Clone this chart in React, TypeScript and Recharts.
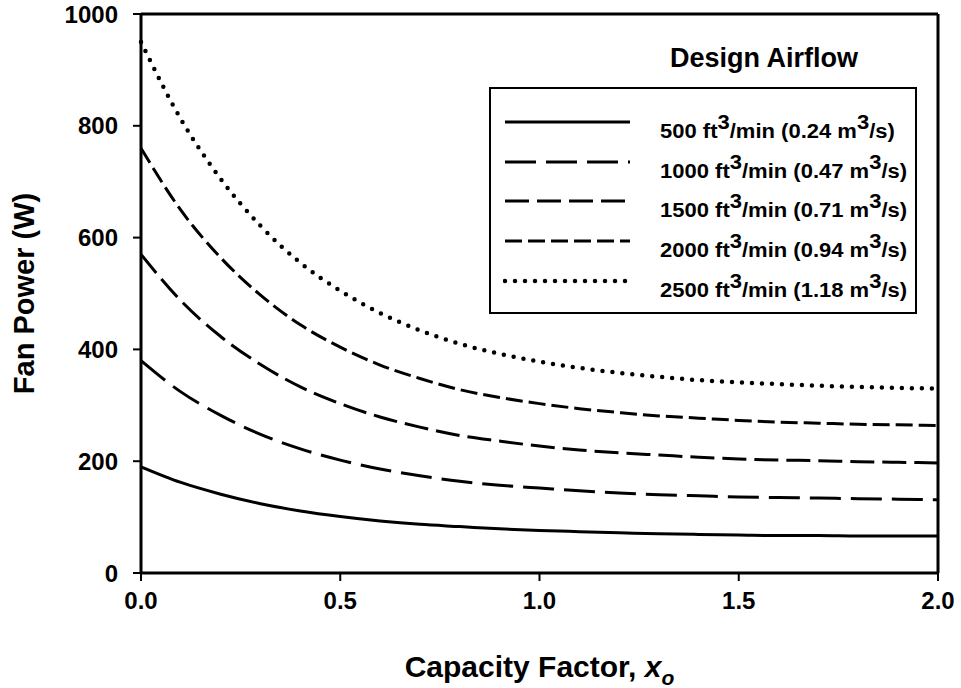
import React from 'react';
import { LineChart, Line, XAxis, YAxis, Legend, Label, ReferenceLine } from 'recharts';

// capacity factor x_o
const capacity = [0, 0.1, 0.2, 0.3, 0.4, 0.5, 0.6, 0.7, 0.8, 0.9, 1.0, 1.1, 1.2, 1.3, 1.4, 1.5, 1.6, 1.7, 1.8, 1.9, 2.0];

// fan power (W) for each design airflow
const p500 = [190, 162, 141, 124, 111, 101, 93, 87, 83, 79, 76, 74, 72, 70, 69, 68, 67, 67, 66, 66, 66];
const p1000 = [380, 324, 282, 248, 222, 202, 186, 174, 164, 157, 152, 147, 143, 140, 138, 136, 135, 134, 133, 132, 131];
const p1500 = [570, 487, 423, 373, 333, 303, 279, 261, 246, 236, 227, 220, 215, 211, 207, 204, 202, 201, 199, 198, 197];
const p2000 = [760, 649, 564, 497, 444, 404, 372, 348, 328, 314, 303, 294, 287, 281, 277, 273, 270, 268, 266, 265, 264];
const p2500 = [950, 812, 705, 621, 555, 505, 465, 434, 410, 392, 378, 367, 358, 351, 345, 341, 338, 335, 333, 331, 330];

const flowCfm = ['500', '1000', '1500', '2000', '2500'];
const flowM3s = ['0.24', '0.47', '0.71', '0.94', '1.18'];
const seriesKeys = ['p500', 'p1000', 'p1500', 'p2000', 'p2500'];

const xTicks = [0, 0.5, 1, 1.5, 2];
const yTicks = [0, 200, 400, 600, 800, 1000];

const data = capacity.map((x, i) => ({
  x,
  p500: p500[i],
  p1000: p1000[i],
  p1500: p1500[i],
  p2000: p2000[i],
  p2500: p2500[i],
}));

const font = '"Liberation Sans", Arial, sans-serif';

const lineStyles = [
  { dash: undefined, width: 3, cap: 'butt' },
  { dash: '31 10', width: 3, cap: 'butt' },
  { dash: '24 8', width: 3, cap: 'butt' },
  { dash: '17 6', width: 3, cap: 'butt' },
  { dash: '0 10', width: 4.5, cap: 'round' },
];

const legendRowY = [82, 122, 161, 201, 241];

function DesignLegend() {
  return (
    <div style={{ position: 'relative', width: 430, height: 276, fontFamily: font, color: '#000' }}>
      <div style={{ position: 'absolute', left: 181, top: 4, fontSize: 27, fontWeight: 'bold', lineHeight: '28px', whiteSpace: 'nowrap' }}>
        Design Airflow
      </div>
      <div style={{ position: 'absolute', left: 0, top: 47, width: 428, height: 227, border: '2px solid #000', boxSizing: 'border-box' }} />
      {seriesKeys.map((k, i) => (
        <React.Fragment key={k}>
          <svg style={{ position: 'absolute', left: 14, top: legendRowY[i] - 5 }} width={130} height={10}>
            <line
              x1={2}
              x2={127}
              y1={5}
              y2={5}
              stroke="#000"
              strokeWidth={lineStyles[i].width}
              strokeDasharray={lineStyles[i].dash}
              strokeLinecap={lineStyles[i].cap as any}
            />
          </svg>
          <div style={{
            position: 'absolute',
            left: 171,
            top: legendRowY[i] - 1,
            fontSize: 20,
            fontWeight: 'bold',
            lineHeight: '21px',
            whiteSpace: 'nowrap',
            transform: 'scaleX(1.1)',
            transformOrigin: 'left center'
          }}>
            {flowCfm[i]} ft<span style={{ position: 'relative', top: -9 }}>3</span>/min ({flowM3s[i]} m<span style={{ position: 'relative', top: -9 }}>3</span>/s)
          </div>
        </React.Fragment>
      ))}
    </div>
  );
}

const tickStyle = { fill: '#000', fontSize: 24, fontWeight: 'bold', fontFamily: font };

export default function App() {
  return (
    <div style={{ position: 'absolute', left: 0, top: 0, width: 961, height: 688, background: '#fff' }}>
      <LineChart width={961} height={688} data={data} margin={{ top: 14, right: 23, bottom: 0, left: 0 }}>
        <XAxis
          dataKey="x"
          type="number"
          domain={[0, 2]}
          ticks={xTicks}
          tickFormatter={(v: number) => v.toFixed(1)}
          tick={tickStyle}
          tickSize={8}
          tickMargin={11}
          height={115}
          axisLine={{ stroke: '#000', strokeWidth: 3 }}
          tickLine={{ stroke: '#000', strokeWidth: 2 }}
        >
          <Label
            content={({ viewBox }: any) => (
              <text
                x={viewBox.x + viewBox.width / 2}
                y={viewBox.y + 104}
                textAnchor="middle"
                fill="#000"
                fontSize={30}
                fontWeight="bold"
                fontFamily={font}
              >
                Capacity Factor,{' '}
                <tspan fontStyle="italic">x</tspan>
                <tspan fontStyle="italic" fontSize={21} dy={8}>o</tspan>
              </text>
            )}
          />
        </XAxis>
        <YAxis
          type="number"
          domain={[0, 1000]}
          ticks={yTicks}
          tick={tickStyle}
          tickSize={8}
          tickMargin={15}
          width={141}
          axisLine={{ stroke: '#000', strokeWidth: 3 }}
          tickLine={{ stroke: '#000', strokeWidth: 2 }}
        >
          <Label
            content={({ viewBox }: any) => (
              <text
                transform={`translate(34, ${viewBox.y + viewBox.height / 2}) rotate(-90)`}
                textAnchor="middle"
                fill="#000"
                fontSize={29}
                fontWeight="bold"
                fontFamily={font}
              >
                Fan Power (W)
              </text>
            )}
          />
        </YAxis>
        <ReferenceLine y={1000} stroke="#000" strokeWidth={3} />
        <ReferenceLine x={2} stroke="#000" strokeWidth={3} />
        {seriesKeys.map((k, i) => (
          <Line
            key={k}
            type="monotone"
            dataKey={k}
            stroke="#000"
            strokeWidth={lineStyles[i].width}
            strokeDasharray={lineStyles[i].dash}
            strokeLinecap={lineStyles[i].cap as any}
            dot={false}
            activeDot={false}
            isAnimationActive={false}
          />
        ))}
        <Legend
          layout="vertical"
          align="center"
          verticalAlign="middle"
          wrapperStyle={{ position: 'absolute', left: 489, top: 40, width: 430, height: 276 }}
          content={() => <DesignLegend />}
        />
      </LineChart>
    </div>
  );
}
